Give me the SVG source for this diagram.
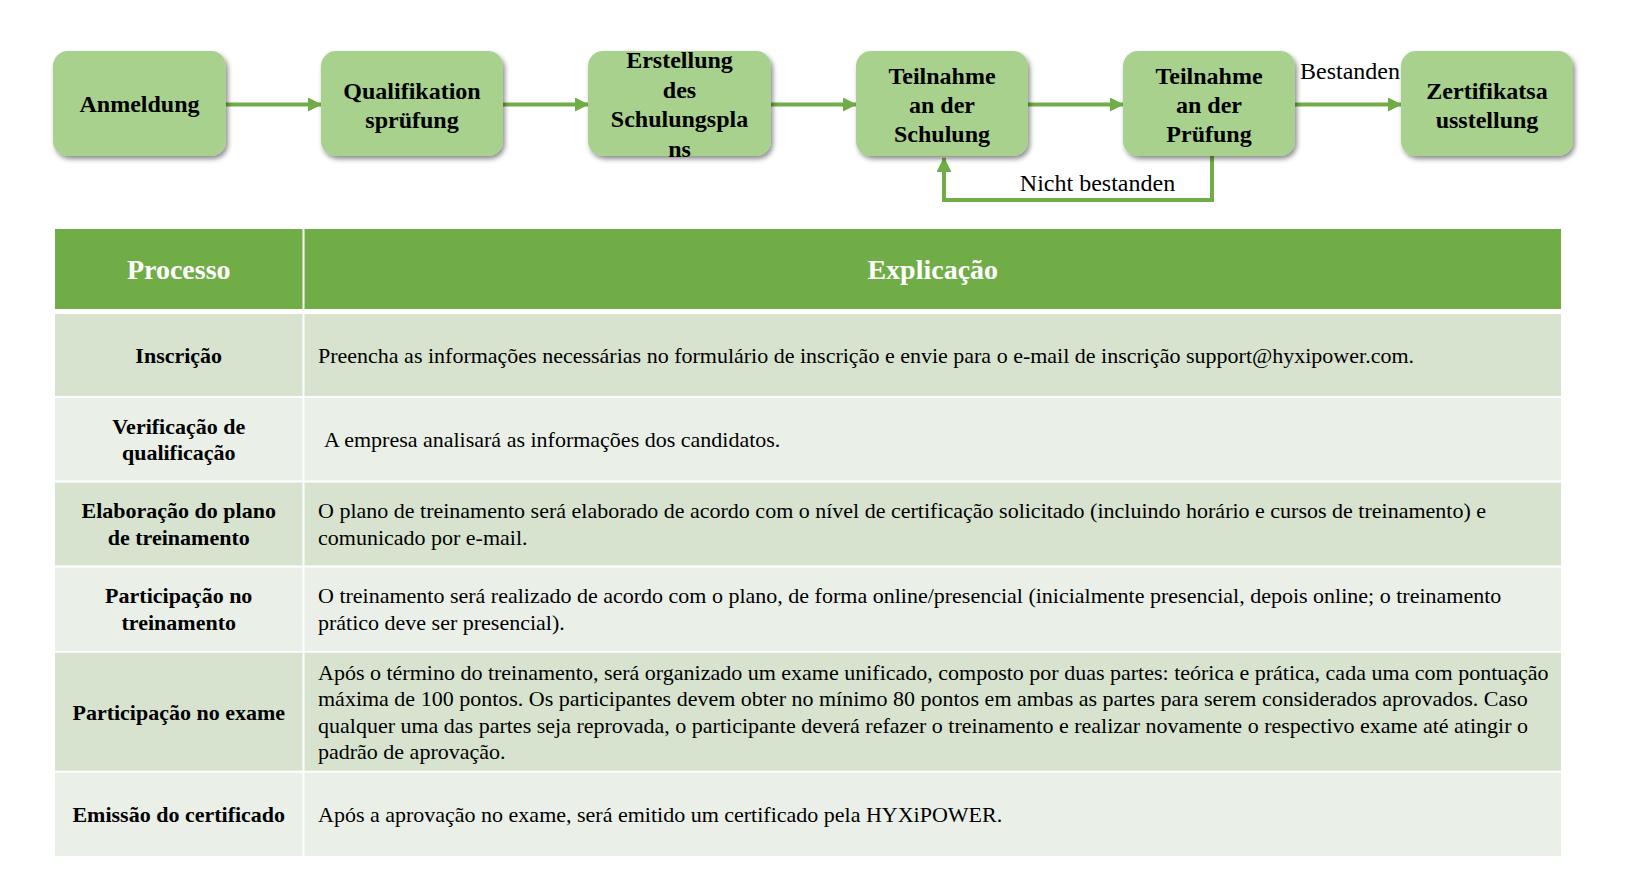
<svg xmlns="http://www.w3.org/2000/svg" width="1630" height="871" viewBox="0 0 1630 871">
<defs>
<style>
.node rect{fill:#A9D18E;filter:url(#sh)}
.nt{font-family:"Liberation Serif","Times New Roman",serif;font-weight:bold;font-size:24px;fill:#000;text-anchor:middle}
.lbl{font-family:"Liberation Serif","Times New Roman",serif;font-size:24px;fill:#000;text-anchor:middle}
.conn line,.conn path{stroke:#70AD47;stroke-width:4;fill:none}
.hd{fill:#70AD47}
.dk{fill:#D7E3CF}
.lt{fill:#EAEFE8}
.ht{font-family:"Liberation Serif","Times New Roman",serif;font-weight:bold;font-size:28px;fill:#fff;text-anchor:middle}
.ct{font-family:"Liberation Serif","Times New Roman",serif;font-weight:bold;font-size:22px;fill:#000;text-anchor:middle}
.bt{font-family:"Liberation Serif","Times New Roman",serif;font-size:22px;fill:#000}
</style>
<filter id="sh" x="-10%" y="-10%" width="125%" height="130%">
<feDropShadow dx="2" dy="3" stdDeviation="2.5" flood-color="#000" flood-opacity="0.45"/>
</filter>
<marker id="ah" markerWidth="14" markerHeight="14" refX="13" refY="7" orient="auto" markerUnits="userSpaceOnUse">
<path d="M0,0 L14,7 L0,14 Z" fill="#70AD47"/>
</marker>
<marker id="ah2" markerWidth="15" markerHeight="15" refX="14" refY="7.5" orient="auto" markerUnits="userSpaceOnUse">
<path d="M0,0 L15,7.5 L0,15 Z" fill="#70AD47"/>
</marker>
</defs>
<rect width="1630" height="871" fill="#fff"/>

<g id="connectors" class="conn">
<line x1="226" y1="104.5" x2="321" y2="104.5" marker-end="url(#ah)"/>
<line x1="503" y1="104.5" x2="588" y2="104.5" marker-end="url(#ah)"/>
<line x1="771" y1="104.5" x2="856" y2="104.5" marker-end="url(#ah)"/>
<line x1="1028" y1="104.5" x2="1123" y2="104.5" marker-end="url(#ah)"/>
<line x1="1295" y1="104.5" x2="1401" y2="104.5" marker-end="url(#ah)"/>
<path d="M1212,156 L1212,200 L944,200 L944,158" marker-end="url(#ah2)"/>
<text class="lbl" x="1350" y="79">Bestanden</text>
<text class="lbl" x="1097.5" y="191">Nicht bestanden</text>
</g>

<g id="n1" class="node"><rect x="53" y="51" width="173" height="105" rx="15"/><text class="nt" x="139.5" y="112">Anmeldung</text></g>
<g id="n2" class="node"><rect x="321" y="51" width="182" height="105" rx="15"/><text class="nt" x="412" y="98.5">Qualifikation</text><text class="nt" x="412" y="127.5">sprüfung</text></g>
<g id="n3" class="node"><rect x="588" y="51" width="183" height="105" rx="15"/><text class="nt" x="679.5" y="68">Erstellung</text><text class="nt" x="679.5" y="97.5">des</text><text class="nt" x="679.5" y="127">Schulungspla</text><text class="nt" x="679.5" y="156.5">ns</text></g>
<g id="n4" class="node"><rect x="856" y="51" width="172" height="105" rx="15"/><text class="nt" x="942" y="83.5">Teilnahme</text><text class="nt" x="942" y="112.5">an der</text><text class="nt" x="942" y="141.5">Schulung</text></g>
<g id="n5" class="node"><rect x="1123" y="51" width="172" height="105" rx="15"/><text class="nt" x="1209" y="83.5">Teilnahme</text><text class="nt" x="1209" y="112.5">an der</text><text class="nt" x="1209" y="141.5">Prüfung</text></g>
<g id="n6" class="node"><rect x="1401" y="51" width="172" height="105" rx="15"/><text class="nt" x="1487" y="98.5">Zertifikatsa</text><text class="nt" x="1487" y="127.5">usstellung</text></g>

<g id="table">
<rect class="hd" x="55" y="229" width="247.5" height="80"/>
<rect class="hd" x="304.5" y="229" width="1256.5" height="80"/>
<text class="ht" x="178.75" y="279">Processo</text>
<text class="ht" x="932.75" y="279">Explicação</text>

<rect class="dk" x="55" y="314" width="247.5" height="82"/>
<rect class="dk" x="304.5" y="314" width="1256.5" height="82"/>
<text class="ct" x="178.75" y="362.7">Inscrição</text>
<text class="bt" x="318" y="362.7">Preencha as informações necessárias no formulário de inscrição e envie para o e-mail de inscrição support@hyxipower.com.</text>

<rect class="lt" x="55" y="398" width="247.5" height="82.5"/>
<rect class="lt" x="304.5" y="398" width="1256.5" height="82.5"/>
<text class="ct" x="178.75" y="434">Verificação de</text>
<text class="ct" x="178.75" y="460.4">qualificação</text>
<text class="bt" x="324" y="447">A empresa analisará as informações dos candidatos.</text>

<rect class="dk" x="55" y="482.5" width="247.5" height="83"/>
<rect class="dk" x="304.5" y="482.5" width="1256.5" height="83"/>
<text class="ct" x="178.75" y="518.3">Elaboração do plano</text>
<text class="ct" x="178.75" y="544.7">de treinamento</text>
<text class="bt" x="318" y="518.3">O plano de treinamento será elaborado de acordo com o nível de certificação solicitado (incluindo horário e cursos de treinamento) e</text>
<text class="bt" x="318" y="544.7">comunicado por e-mail.</text>

<rect class="lt" x="55" y="567.5" width="247.5" height="83.5"/>
<rect class="lt" x="304.5" y="567.5" width="1256.5" height="83.5"/>
<text class="ct" x="178.75" y="603.3">Participação no</text>
<text class="ct" x="178.75" y="629.7">treinamento</text>
<text class="bt" x="318" y="603.3">O treinamento será realizado de acordo com o plano, de forma online/presencial (inicialmente presencial, depois online; o treinamento</text>
<text class="bt" x="318" y="629.7">prático deve ser presencial).</text>

<rect class="dk" x="55" y="652.7" width="247.5" height="118"/>
<rect class="dk" x="304.5" y="652.7" width="1256.5" height="118"/>
<text class="ct" x="178.75" y="719.5">Participação no exame</text>
<text class="bt" x="318" y="680">Após o término do treinamento, será organizado um exame unificado, composto por duas partes: teórica e prática, cada uma com pontuação</text>
<text class="bt" x="318" y="706.4">máxima de 100 pontos. Os participantes devem obter no mínimo 80 pontos em ambas as partes para serem considerados aprovados. Caso</text>
<text class="bt" x="318" y="732.8">qualquer uma das partes seja reprovada, o participante deverá refazer o treinamento e realizar novamente o respectivo exame até atingir o</text>
<text class="bt" x="318" y="759.2">padrão de aprovação.</text>

<rect class="lt" x="55" y="772.7" width="247.5" height="83.3"/>
<rect class="lt" x="304.5" y="772.7" width="1256.5" height="83.3"/>
<text class="ct" x="178.75" y="822">Emissão do certificado</text>
<text class="bt" x="318" y="822">Após a aprovação no exame, será emitido um certificado pela HYXiPOWER.</text>
</g>
</svg>
